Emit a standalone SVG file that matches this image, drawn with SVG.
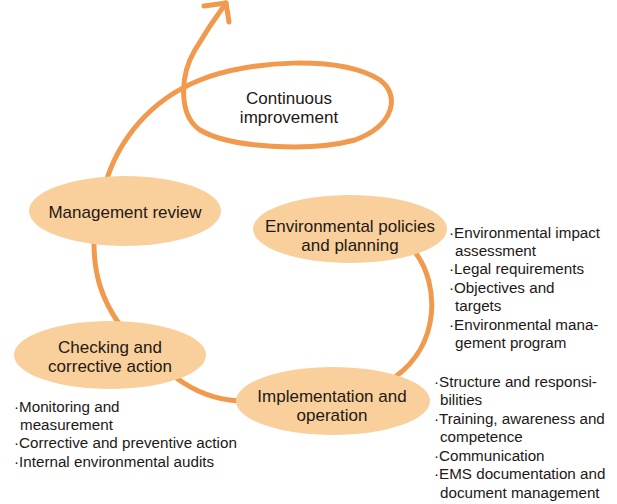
<svg xmlns="http://www.w3.org/2000/svg" width="617" height="504" viewBox="0 0 617 504">
<style>
.bg{fill:#ffffff}
.conn{fill:none;stroke:#F19A4E;stroke-width:5;stroke-linecap:round;stroke-linejoin:round}
.node{fill:#F9D09B;stroke:none}
.lbl{font-family:"Liberation Sans",Arial,sans-serif;font-size:17px;fill:#231815;text-anchor:middle}
.lst{font-family:"Liberation Sans",Arial,sans-serif;font-size:15.2px;fill:#231815}
</style>
<rect class="bg" x="0" y="0" width="617" height="504"/>
<g id="connectors">
<path class="conn" d="M105,185 C118,140 150,100 200,80 C250,60 340,55 380,80 C400,95 395,125 355,140 C310,152 230,148 200,130 C178,115 180,75 195,50 C205,33 215,18 226,3"/>
<path class="conn" d="M204,6 L226,3 L229,22"/>
<path class="conn" d="M415,252 C440,285 440,345 395,377"/>
<path class="conn" d="M240,401 C215,400 195,392 175,377"/>
<path class="conn" d="M120,325 C102,300 94,275 94,243"/>
</g>
<g id="continuous-improvement">
<text class="lbl" x="289" y="104">Continuous</text>
<text class="lbl" x="289" y="123">improvement</text>
</g>
<g id="management-review">
<ellipse class="node" cx="125" cy="211" rx="96" ry="35"/>
<text class="lbl" x="125" y="218">Management review</text>
</g>
<g id="environmental-policies">
<ellipse class="node" cx="350" cy="229" rx="97" ry="34"/>
<text class="lbl" x="350" y="232">Environmental policies</text>
<text class="lbl" x="350" y="251">and planning</text>
<g class="lst">
<text x="449" y="238">·Environmental impact</text>
<text x="455" y="256">assessment</text>
<text x="449" y="274">·Legal requirements</text>
<text x="449" y="293">·Objectives and</text>
<text x="455" y="311">targets</text>
<text x="449" y="330">·Environmental mana-</text>
<text x="455" y="348">gement program</text>
</g>
</g>
<g id="checking">
<ellipse class="node" cx="110" cy="355" rx="96" ry="34"/>
<text class="lbl" x="110" y="353">Checking and</text>
<text class="lbl" x="110" y="372">corrective action</text>
<g class="lst">
<text x="14" y="412">·Monitoring and</text>
<text x="20" y="430">measurement</text>
<text x="14" y="448">·Corrective and preventive action</text>
<text x="14" y="467">·Internal environmental audits</text>
</g>
</g>
<g id="implementation">
<ellipse class="node" cx="333" cy="401" rx="97" ry="34"/>
<text class="lbl" x="332" y="402">Implementation and</text>
<text class="lbl" x="332" y="421">operation</text>
<g class="lst">
<text x="434" y="387">·Structure and responsi-</text>
<text x="440" y="405">bilities</text>
<text x="434" y="424">·Training, awareness and</text>
<text x="440" y="442">competence</text>
<text x="434" y="461">·Communication</text>
<text x="434" y="479">·EMS documentation and</text>
<text x="440" y="498">document management</text>
</g>
</g>
</svg>
